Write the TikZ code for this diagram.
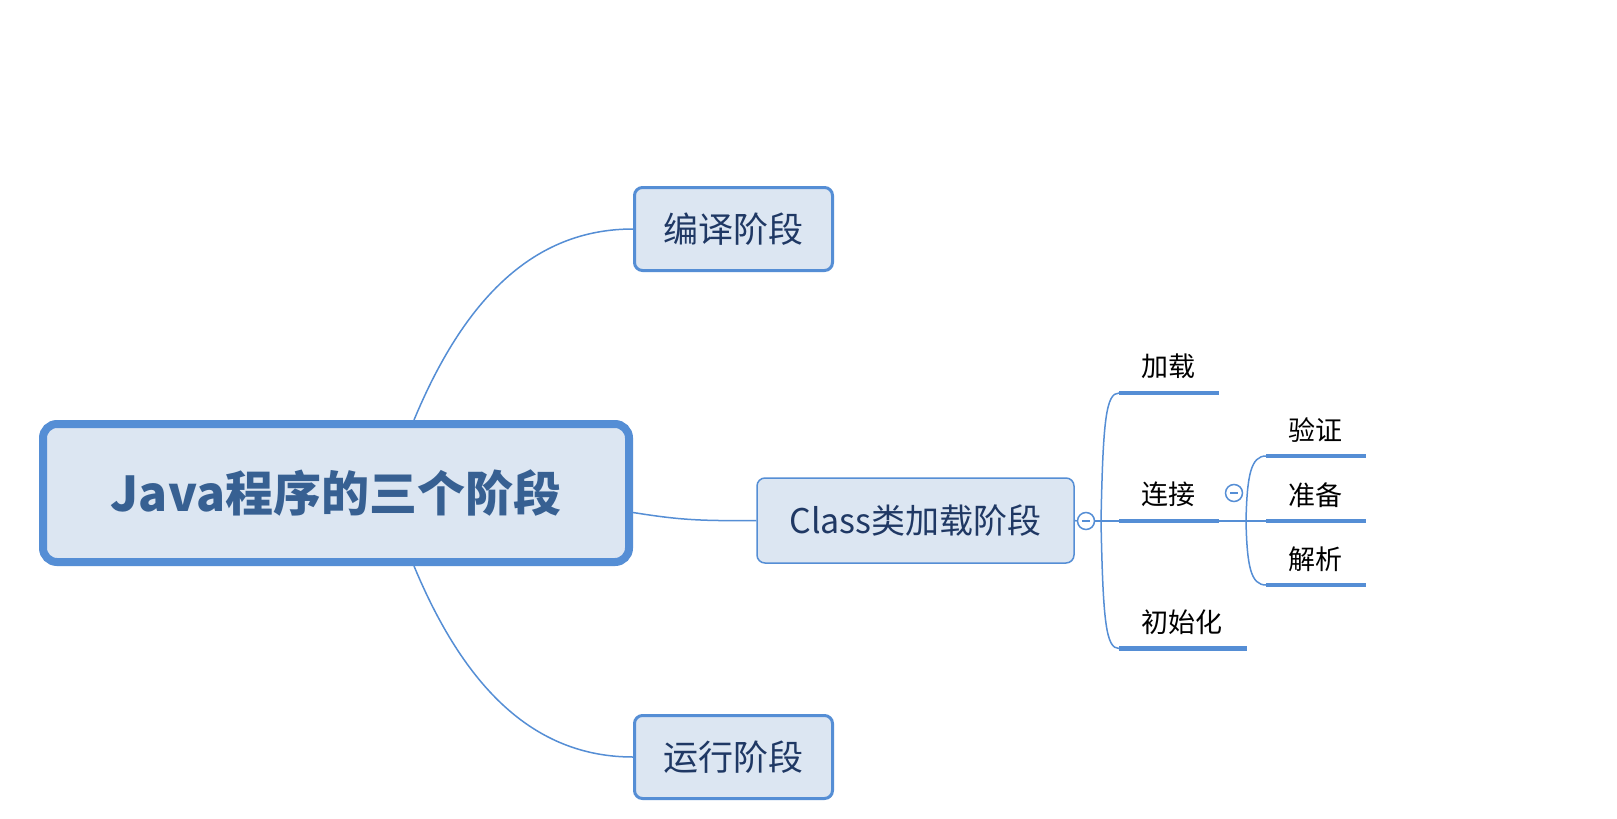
\documentclass[tikz,border=0pt]{standalone}
\usepackage{fontspec}
\usetikzlibrary{calc}
\setmainfont{Noto Sans CJK SC}
\definecolor{lineblue}{RGB}{85,142,213}
\definecolor{boxfill}{RGB}{220,230,242}
\definecolor{roottext}{RGB}{55,96,146}
\definecolor{subtext}{RGB}{31,56,100}
\tikzset{
  rootbox/.style={draw=lineblue, fill=boxfill, line width=8pt, rounded corners=14pt,
    minimum width=586pt, minimum height=138pt, inner sep=0pt, text=roottext,
    font=\fontsize{48}{56}\selectfont\bfseries},
  subbox/.style={draw=lineblue, fill=boxfill, line width=3pt, rounded corners=8pt,
    minimum width=198pt, minimum height=83pt, inner sep=0pt, text=subtext,
    font=\fontsize{35}{42}\selectfont},
  classbox/.style={draw=lineblue, fill=boxfill, line width=1.5pt, rounded corners=8pt,
    minimum width=317pt, minimum height=85pt, inner sep=0pt, text=subtext,
    font=\fontsize{34}{40}\selectfont},
  conn/.style={draw=lineblue, line width=1.5pt},
  uline/.style={draw=lineblue, line width=4.2pt},
  leaf/.style={anchor=west, inner sep=0pt, text=black, font=\fontsize{27}{32}\selectfont},
  collapse/.style={circle, draw=lineblue, fill=white, line width=1.5pt, minimum size=17pt, inner sep=0pt},
}
\begin{document}
\begin{tikzpicture}[x=1pt,y=-1pt]
\useasboundingbox (0,0) rectangle (1617,819);
\fill[white] (0,0) rectangle (1617,819);

% main nodes
\node[rootbox] (root) at (336,493) {Java程序的三个阶段};
\node[subbox] (compile) at (733.5,229) {编译阶段};
\node[subbox] (run) at (733.5,757) {运行阶段};
\node[classbox] (cls) at (915.5,520.5) {Class类加载阶段};

% root connectors
\coordinate (rtop) at (414,420);
\coordinate (rbot) at (414,566);
\coordinate (rright) at (633,512.5);
\draw[conn] (rtop) .. controls (468,290) and (540,229) .. (compile.west);
\draw[conn] (rbot) .. controls (468,696) and (540,757) .. (run.west);
\draw[conn] (rright) .. controls (680,520) and (700,521) .. (cls.west);

% first level branch
\node[collapse] (c1) at (1086,521) {};
\draw[lineblue, line width=1.8pt] ($(c1)+(-4,0)$) -- ($(c1)+(4,0)$);
\coordinate (b1) at (1101,521);
\coordinate (loadL) at (1119,393);  \coordinate (loadR) at (1219,393);
\coordinate (linkL) at (1119,521);  \coordinate (linkR) at (1219,521);
\coordinate (initL) at (1119,648.5);\coordinate (initR) at (1247,648.5);
\draw[conn] (cls.east) -- (c1.west);
\draw[conn] (c1.east) -- (b1);
\draw[conn] (b1) .. controls (1103,420) and (1106,393) .. (loadL);
\draw[conn] (b1) .. controls (1103,622) and (1106,648.5) .. (initL);
\draw[conn] (b1) -- (linkL);
\draw[uline] (loadL) -- (loadR);
\draw[uline] (linkL) -- (linkR);
\draw[uline] (initL) -- (initR);
\node[leaf] (load) at (1141,366) {加载};
\node[leaf] (link) at (1141,494) {连接};
\node[leaf] (init) at (1141,622) {初始化};

% second level branch
\node[collapse] (c2) at (1234,493) {};
\draw[lineblue, line width=1.8pt] ($(c2)+(-4,0)$) -- ($(c2)+(4,0)$);
\coordinate (b2) at (1246,521);
\coordinate (verL) at (1266,456);  \coordinate (verR) at (1366,456);
\coordinate (preL) at (1266,521);  \coordinate (preR) at (1366,521);
\coordinate (resL) at (1266,585);  \coordinate (resR) at (1366,585);
\draw[conn] (linkR) -- (b2);
\draw[conn] (b2) .. controls (1247,475) and (1251,456) .. (verL);
\draw[conn] (b2) .. controls (1247,567) and (1251,585) .. (resL);
\draw[conn] (b2) -- (preL);
\draw[uline] (verL) -- (verR);
\draw[uline] (preL) -- (preR);
\draw[uline] (resL) -- (resR);
\node[leaf] (ver) at (1288,430) {验证};
\node[leaf] (pre) at (1288,495) {准备};
\node[leaf] (res) at (1288,559) {解析};
\end{tikzpicture}
\end{document}
